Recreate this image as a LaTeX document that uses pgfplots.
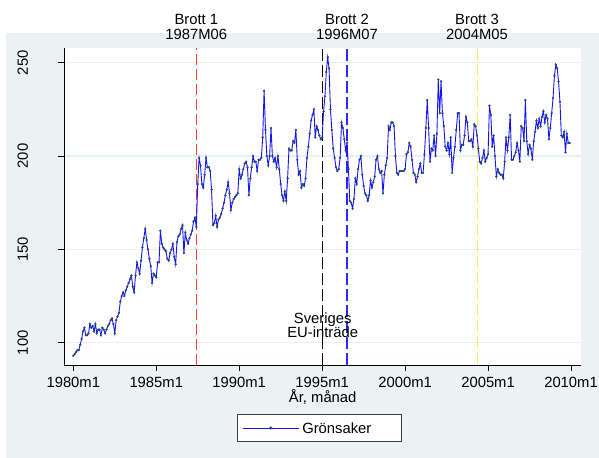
\documentclass[border=0pt]{standalone}
\usepackage{pgfplots}
\pgfplotsset{compat=1.18}
\usepackage{fontspec}
\setmainfont{Liberation Sans}
\definecolor{bg}{RGB}{234,242,243}
\definecolor{gridc}{RGB}{232,240,242}
\definecolor{serie}{RGB}{20,20,255}
\definecolor{mk}{RGB}{40,75,105}
\definecolor{vred}{RGB}{255,60,60}
\definecolor{vblue}{RGB}{40,40,255}
\definecolor{vyellow}{RGB}{248,236,90}
\pgfplotstableread{
m v
0 93
1 94
2 95
3 96
4 96
5 99
6 102
7 106
8 108
9 104
10 104
11 105
12 110
13 108
14 109
15 106
16 110
17 105
18 107
19 107
20 104
21 108
22 107
23 105
24 107
25 109
26 110
27 112
28 113
29 110
30 105
31 112
32 114
33 116
34 122
35 125
36 127
37 125
38 128
39 130
40 132
41 134
42 136
43 130
44 127
45 136
46 143
47 140
48 137
49 144
50 151
51 156
52 161
53 155
54 150
55 145
56 141
57 132
58 137
59 136
60 135
61 143
62 143
63 160
64 153
65 151
66 150
67 149
68 145
69 144
70 148
71 150
72 153
73 146
74 142
75 154
76 157
77 158
78 161
79 163
80 148
81 159
82 155
83 153
84 156
85 158
86 160
87 165
88 167
89 162
90 185
91 199
92 195
93 185
94 183
95 190
96 199
97 194
98 194
99 192
100 182
101 163
102 164
103 168
104 162
105 166
106 167
107 169
108 172
109 175
110 179
111 182
112 186
113 180
114 171
115 175
116 177
117 178
118 179
119 180
120 193
121 188
122 190
123 193
124 196
125 197
126 194
127 179
128 188
129 194
130 200
131 197
132 197
133 192
134 198
135 198
136 199
137 210
138 235
139 214
140 200
141 195
142 200
143 215
144 200
145 197
146 199
147 194
148 200
149 193
150 185
151 179
152 176
153 181
154 176
155 188
156 204
157 203
158 203
159 208
160 207
161 214
162 198
163 190
164 192
165 183
166 185
167 184
168 188
169 199
170 205
171 212
172 219
173 222
174 225
175 210
176 216
177 214
178 211
179 209
180 210
181 224
182 232
183 245
184 253
185 247
186 225
187 214
188 204
189 199
190 194
191 192
192 193
193 199
194 218
195 215
196 209
197 203
198 207
199 193
200 176
201 175
202 172
203 177
204 188
205 185
206 193
207 198
208 200
209 190
210 184
211 180
212 179
213 176
214 179
215 187
216 183
217 186
218 189
219 198
220 200
221 193
222 191
223 192
224 180
225 190
226 195
227 199
228 216
229 214
230 218
231 218
232 216
233 200
234 191
235 190
236 192
237 192
238 192
239 192
240 193
241 201
242 202
243 207
244 205
245 198
246 191
247 190
248 186
249 189
250 193
251 196
252 191
253 191
254 201
255 215
256 230
257 215
258 197
259 204
260 203
261 211
262 200
263 212
264 241
265 223
266 240
267 223
268 216
269 205
270 203
271 207
272 201
273 210
274 191
275 199
276 205
277 214
278 223
279 223
280 203
281 206
282 206
283 211
284 221
285 218
286 208
287 208
288 209
289 205
290 217
291 216
292 211
293 204
294 197
295 196
296 199
297 203
298 197
299 199
300 201
301 227
302 222
303 205
304 211
305 200
306 189
307 193
308 191
309 190
310 190
311 188
312 197
313 210
314 203
315 210
316 222
317 198
318 198
319 200
320 202
321 207
322 203
323 197
324 216
325 215
326 208
327 230
328 208
329 201
330 206
331 204
332 198
333 208
334 213
335 219
336 215
337 220
338 216
339 221
340 224
341 218
342 222
343 220
344 209
345 215
346 223
347 231
348 243
349 249
350 247
351 240
352 229
353 211
354 210
355 213
356 202
357 212
358 207
359 207
}\datatable
\begin{document}
\fontsize{14.8bp}{17bp}\selectfont
\begin{tikzpicture}[x=1bp,y=1bp]
\useasboundingbox (0,0) rectangle (599,458);
\fill[bg] (6,0) rectangle (599,425);
\begin{axis}[
  at={(64bp,93bp)}, anchor=south west,
  scale only axis, width=517bp, height=317bp,
  xmin=-6.73, xmax=367.23, ymin=88.05, ymax=257.9,
  axis x line*=bottom, axis y line*=left,
  axis line style={black, line width=0.8bp, -},
  tick align=outside, major tick length=6bp,
  tick style={black, line width=0.8bp},
  xtick={0,60,120,180,240,300,360},
  xticklabels={1980m1,1985m1,1990m1,1995m1,2000m1,2005m1,2010m1},
  ytick={100,150,200,250},
  yticklabels={100,150,200,250},
  ymajorgrids, grid style={gridc, line width=1.2bp},
  axis background/.style={fill=white},
  xticklabel style={anchor=base, yshift=-16.8bp},
  yticklabel style={xshift=-30.2bp, rotate=90, anchor=base},
  legend style={at={(0.3346,-0.1546)}, anchor=north west,
    draw=black!75, line width=0.8bp, fill=white,
    inner xsep=5bp, inner ysep=5bp,
    nodes={inner sep=3bp, text height=10.8bp, text depth=0.5bp}},
  legend image code/.code={
    \draw[serie, line width=0.9bp] (0bp,0bp) -- (56bp,0bp);
    \fill[mk] (28bp,0bp) circle (1.1bp);},
]
\draw[vred, line width=1bp, dash pattern=on 11bp off 4bp] (axis cs:89,88.05) -- (axis cs:89,257.9);
\draw[black, line width=1bp, dash pattern=on 12bp off 4bp] (axis cs:180,88.05) -- (axis cs:180,257.9);
\draw[vblue, line width=1.1bp, dash pattern=on 12bp off 4bp] (axis cs:198,88.05) -- (axis cs:198,257.9);
\draw[vyellow, line width=1bp, dash pattern=on 12bp off 4bp] (axis cs:292,88.05) -- (axis cs:292,257.9);
\addplot[serie, line width=0.9bp, mark=*, mark size=1bp,
  mark options={mk, fill=mk, draw=mk, line width=0.3bp}] table[x=m, y=v] {\datatable};
\addlegendentry{Grönsaker\hspace*{22bp}}
\end{axis}
% annotations (text only)
\node[anchor=base, inner sep=0pt] at (196.3,433.0) {Brott 1};
\node[anchor=base, inner sep=0pt] at (196.3,418.5) {1987M06};
\node[anchor=base, inner sep=0pt] at (347.0,433.0) {Brott 2};
\node[anchor=base, inner sep=0pt] at (347.0,418.5) {1996M07};
\node[anchor=base, inner sep=0pt] at (477.0,433.0) {Brott 3};
\node[anchor=base, inner sep=0pt] at (477.0,418.5) {2004M05};
\node[anchor=base, inner sep=0pt] at (322.7,134.8) {Sveriges};
\node[anchor=base, inner sep=0pt] at (322.7,120.1) {EU-inträde};
\node[anchor=base] at (322.7,55) {År, månad};
\end{tikzpicture}
\end{document}
